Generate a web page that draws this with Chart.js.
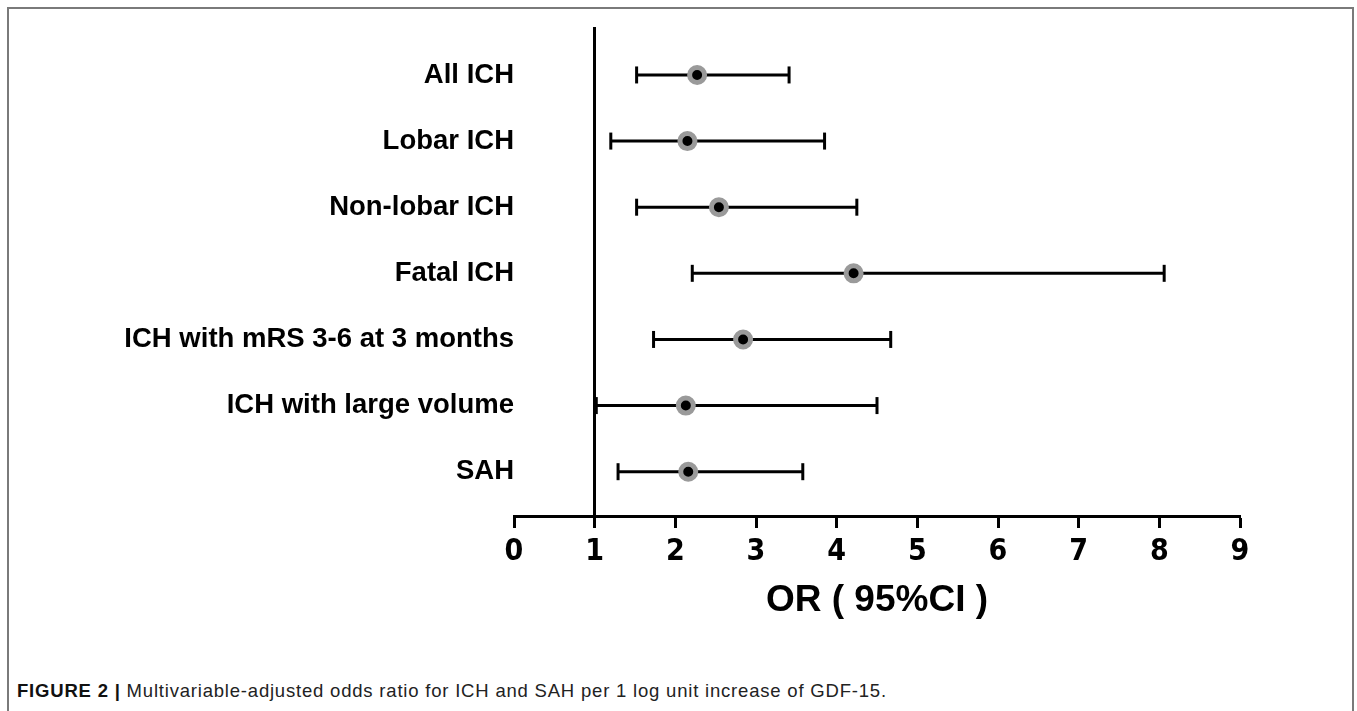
<!DOCTYPE html>
<html>
<head>
<meta charset="utf-8">
<script src="https://cdn.jsdelivr.net/npm/chart.js@4.4.1/dist/chart.umd.min.js"></script>
<style>
  html, body { margin: 0; padding: 0; background: #fff; }
  body { width: 1357px; height: 711px; position: relative; overflow: hidden; }
  #frame { position: absolute; left: 7px; top: 7px; width: 1347px; height: 720px;
           border-left: 2px solid #7a7a7a; border-top: 2px solid #7a7a7a; border-right: 2px solid #7a7a7a; box-sizing: border-box; }
  #wrap { position: absolute; left: 0; top: 0; width: 1357px; height: 623px; }
  #caption { position: absolute; left: 17px; top: 680px; font-family: 'Liberation Sans', Arial, sans-serif;
             font-size: 18.5px; letter-spacing: 0.8px; color: #222; white-space: nowrap; }
  #caption b { color: #111; }
</style>
</head>
<body>
<div id="frame"></div>
<div id="wrap"><canvas id="c" width="1357" height="623"></canvas></div>
<div id="caption"><b>FIGURE 2 |</b> Multivariable-adjusted odds ratio for ICH and SAH per 1 log unit increase of GDF-15.</div>
<script>
// ---- data ----
const categories = ['All ICH', 'Lobar ICH', 'Non-lobar ICH', 'Fatal ICH',
                    'ICH with mRS 3-6 at 3 months', 'ICH with large volume', 'SAH'];
const orValues = [2.27, 2.15, 2.54, 4.21, 2.84, 2.13, 2.16];
const ciLower  = [1.52, 1.20, 1.52, 2.21, 1.73, 1.02, 1.29];
const ciUpper  = [3.41, 3.85, 4.25, 8.06, 4.67, 4.50, 3.58];
const xTickValues = [0, 1, 2, 3, 4, 5, 6, 7, 8, 9];
const referenceOR = 1;
const axisTitle = 'OR ( 95%CI )';

const boldSans = "'Liberation Sans', Arial, sans-serif";
const narrow = "'Liberation Sans Narrow', 'DejaVu Sans Condensed', 'Liberation Sans', sans-serif";

const datasets = [];
datasets.push({
  type: 'scatter',
  data: orValues.map((v, i) => ({ x: v, y: i })),
  pointRadius: 7.5, pointHoverRadius: 7.5,
  pointBorderWidth: 5, pointBorderColor: '#9a9a9a', pointBackgroundColor: '#000',
  order: 0, clip: false
});
datasets.push({
  type: 'scatter',
  data: ciLower.map((v, i) => ({ x: v, y: i })).concat(ciUpper.map((v, i) => ({ x: v, y: i }))),
  pointStyle: 'line', rotation: 90, pointRadius: 8.5, pointHoverRadius: 8.5,
  pointBorderWidth: 3, pointBorderColor: '#000', borderColor: '#000',
  order: 1, clip: false
});
categories.forEach((c, i) => {
  datasets.push({
    type: 'line',
    data: [{ x: ciLower[i], y: i }, { x: ciUpper[i], y: i }],
    borderColor: '#000', borderWidth: 3, pointRadius: 0, fill: false,
    order: 2, clip: false
  });
});

new Chart(document.getElementById('c'), {
  type: 'scatter',
  data: { datasets },
  options: {
    responsive: false,
    animation: false,
    events: [],
    layout: { padding: { left: 0, right: 117, top: 28, bottom: 0 } },
    plugins: { legend: { display: false }, tooltip: { enabled: false } },
    scales: {
      x: {
        type: 'linear', min: 0, max: 9,
        afterBuildTicks: s => { s.ticks = xTickValues.map(v => ({ value: v })); },
        grid: { drawOnChartArea: false, drawTicks: true, tickLength: 12, tickWidth: 3, tickColor: '#000' },
        border: { display: true, color: '#000', width: 3 },
        ticks: { color: '#000', padding: 6, font: { family: narrow, size: 30, weight: 'bold' }, maxRotation: 0 },
        title: { display: true, text: axisTitle, color: '#000', padding: { top: 18, bottom: 0 },
                 font: { family: boldSans, size: 37, weight: 'bold' } },
        afterFit: s => { s.height = 107; }
      },
      y: {
        type: 'linear', reverse: true, min: -0.71, max: 6.67, position: 'left',
        afterBuildTicks: s => { s.ticks = categories.map((_, i) => ({ value: i })); },
        afterFit: s => { s.width = 514; },
        grid: { display: false, drawTicks: false },
        border: { display: false },
        ticks: { color: '#000', padding: 0, font: { family: boldSans, size: 27.5, weight: 'bold' },
                 callback: v => categories[v] }
      },
      yRef: {
        type: 'linear', position: { x: referenceOR },
        grid: { display: false, drawTicks: false },
        border: { display: true, color: '#000', width: 3 },
        ticks: { display: false }
      }
    }
  }
});
</script>
</body>
</html>
